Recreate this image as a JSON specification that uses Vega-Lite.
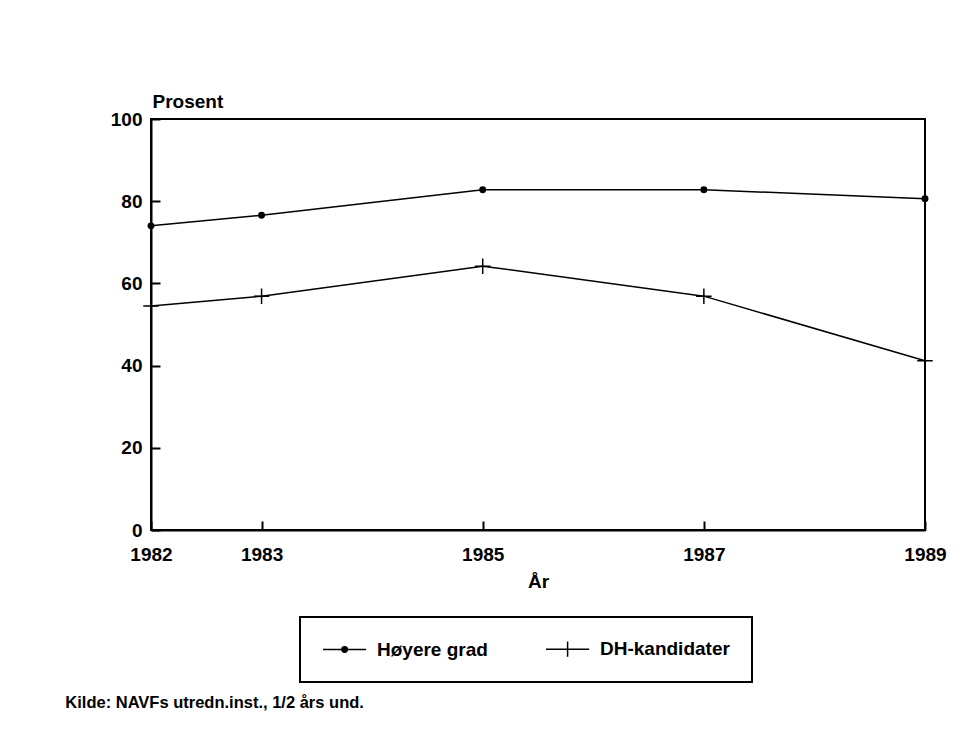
{
  "$schema": "https://vega.github.io/schema/vega-lite/v6.json",
  "width": 774,
  "height": 411,
  "autosize": {"type": "none"},
  "padding": {"left": 151, "top": 119, "right": 55, "bottom": 199},
  "background": "white",
  "title": {
    "text": "Kilde: NAVFs utredn.inst., 1/2 års und.",
    "orient": "bottom",
    "anchor": "start",
    "frame": "bounds",
    "fontSize": 16.5,
    "fontWeight": "bold",
    "font": "Liberation Sans",
    "color": "black",
    "offset": 12,
    "dx": -45
  },
  "config": {
    "font": "Liberation Sans",
    "view": {"stroke": "black", "strokeWidth": 2},
    "axis": {
      "domainColor": "black",
      "domainWidth": 2,
      "tickColor": "black",
      "tickWidth": 2,
      "labelColor": "black",
      "titleColor": "black",
      "labelFont": "Liberation Sans",
      "titleFont": "Liberation Sans",
      "labelFontSize": 19,
      "labelFontWeight": "bold",
      "titleFontSize": 19,
      "titleFontWeight": "bold",
      "grid": false
    },
    "legend": {"labelFont": "Liberation Sans"}
  },
  "data": {
    "values": [
      {"year": 1982, "pct": 74.0, "serie": "Høyere grad"},
      {"year": 1983, "pct": 76.6, "serie": "Høyere grad"},
      {"year": 1985, "pct": 82.8, "serie": "Høyere grad"},
      {"year": 1987, "pct": 82.8, "serie": "Høyere grad"},
      {"year": 1989, "pct": 80.6, "serie": "Høyere grad"},
      {"year": 1982, "pct": 54.5, "serie": "DH-kandidater"},
      {"year": 1983, "pct": 56.9, "serie": "DH-kandidater"},
      {"year": 1985, "pct": 64.2, "serie": "DH-kandidater"},
      {"year": 1987, "pct": 56.9, "serie": "DH-kandidater"},
      {"year": 1989, "pct": 41.2, "serie": "DH-kandidater"}
    ]
  },
  "encoding": {
    "x": {
      "field": "year",
      "type": "quantitative",
      "scale": {"domain": [1982, 1989], "nice": false, "zero": false},
      "axis": {
        "values": [1982, 1983, 1985, 1987, 1989],
        "format": "d",
        "tickSize": 9,
        "labelPadding": 6,
        "labelFlush": false,
        "title": "År",
        "titlePadding": 8,
        "encoding": {"ticks": {"y2": {"value": -9}}}
      }
    },
    "y": {
      "field": "pct",
      "type": "quantitative",
      "scale": {"domain": [0, 100], "nice": false},
      "axis": {
        "values": [0, 20, 40, 60, 80, 100],
        "tickSize": 9,
        "labelPadding": 0,
        "title": "Prosent",
        "titleAngle": 0,
        "titleAlign": "left",
        "titleBaseline": "alphabetic",
        "titleX": 1,
        "titleY": -12,
        "encoding": {"ticks": {"x2": {"value": 9}}}
      }
    }
  },
  "layer": [
    {
      "mark": {"type": "line", "color": "black", "strokeWidth": 1.5},
      "encoding": {"detail": {"field": "serie", "type": "nominal"}}
    },
    {
      "mark": {"type": "point", "filled": true, "fill": "black", "stroke": "black", "strokeWidth": 1.5, "opacity": 1, "size": 240},
      "encoding": {
        "shape": {
          "field": "serie",
          "type": "nominal",
          "scale": {
            "domain": ["Høyere grad", "DH-kandidater"],
            "range": ["M0.35,0A0.35,0.35,0,1,1,-0.35,0A0.35,0.35,0,1,1,0.35,0Z", "M-1,0H1M0,-1V1"]
          },
          "legend": null
        }
      }
    },
    {
      "mark": {"type": "point", "filled": true, "fill": "black", "stroke": "black", "strokeWidth": 1.5, "opacity": 0, "size": 324},
      "encoding": {
        "shape": {
          "field": "serie",
          "type": "nominal",
          "scale": {
            "domain": ["Høyere grad", "DH-kandidater"],
            "range": ["M-1,0H3.8M1.7,0A0.3,0.3,0,1,1,1.1,0A0.3,0.3,0,1,1,1.7,0Z", "M-1,0H3.8M1.4,-0.85V0.85"]
          },
          "legend": {
            "title": null,
            "orient": "none",
            "legendX": 149,
            "legendY": 498,
            "direction": "horizontal",
            "padding": 22,
            "strokeColor": "black",
            "symbolSize": 324,
            "symbolOpacity": 1,
            "labelFontSize": 19,
            "labelFontWeight": "bold",
            "labelColor": "black",
            "labelOffset": 35,
            "columnPadding": 55,
            "symbolStrokeWidth": 1.5,
            "symbolFillColor": "black",
            "symbolStrokeColor": "black",
            "encoding": {
              "legend": {"strokeWidth": {"value": 2}},
              "symbols": {
                "fill": {"value": "black"},
                "stroke": {"value": "black"},
                "strokeWidth": {"value": 1.5},
                "opacity": {"value": 1}
              }
            }
          }
        }
      }
    }
  ],
  "resolve": {"scale": {"shape": "independent"}, "legend": {"shape": "independent"}}
}
